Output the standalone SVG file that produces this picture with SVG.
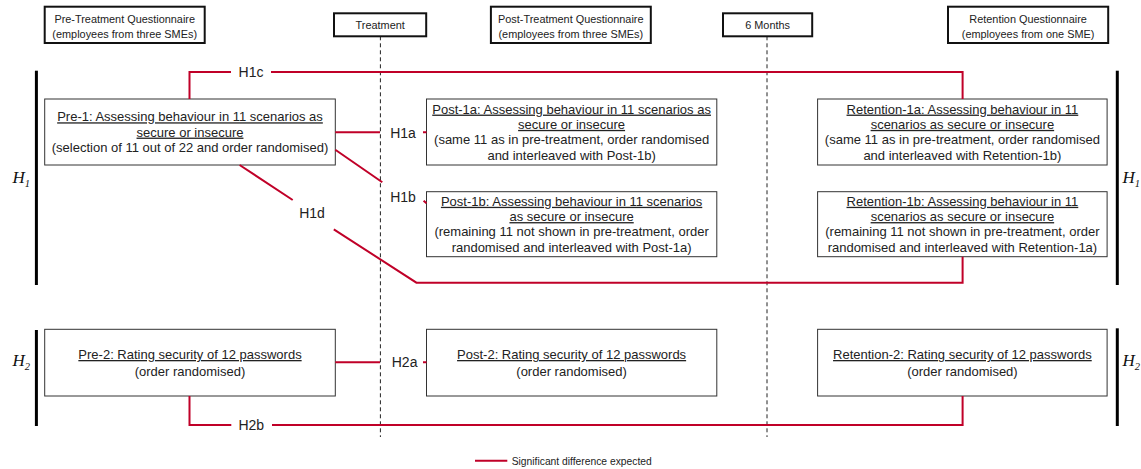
<svg xmlns="http://www.w3.org/2000/svg" width="1141" height="469" viewBox="0 0 1141 469">
<style>
.hdr rect{fill:#fff;stroke:#111;stroke-width:2}
.hdr text{font-family:"Liberation Sans",Arial,sans-serif;font-size:10.9px;fill:#222;text-anchor:middle}
.box rect{fill:#fff;stroke:#333;stroke-width:1}
.box text{font-family:"Liberation Sans",Arial,sans-serif;font-size:13px;fill:#222;text-anchor:middle}
.u{text-decoration:underline}
.red{stroke:#c00028;stroke-width:2;fill:none}
.lbl{font-family:"Liberation Sans",Arial,sans-serif;font-size:14px;fill:#222;text-anchor:middle;dominant-baseline:central}
.dash{stroke:#222;stroke-width:1;stroke-dasharray:4 3}
.bar{stroke:#000;stroke-width:3}
.hl{font-family:"Liberation Serif","Times New Roman",serif;font-style:italic;font-size:17px;fill:#111}
.leg{font-family:"Liberation Sans",Arial,sans-serif;font-size:10.3px;fill:#222}
</style>

<g id="timeline">
<line class="dash" x1="380.4" y1="36.3" x2="380.4" y2="437"/>
<line class="dash" x1="767" y1="36.3" x2="767" y2="437"/>
</g>

<g id="hdr-pre" class="hdr"><rect x="44.7" y="6.7" width="160" height="36.3"/><text x="124.7" y="22.8">Pre-Treatment Questionnaire</text><text x="124.7" y="37.5">(employees from three SMEs)</text></g>
<g id="hdr-treatment" class="hdr"><rect x="334" y="13.3" width="92.2" height="23"/><text x="380.2" y="29.4">Treatment</text></g>
<g id="hdr-post" class="hdr"><rect x="490.9" y="6.7" width="159.9" height="36.3"/><text x="570.8" y="22.8">Post-Treatment Questionnaire</text><text x="570.8" y="37.5">(employees from three SMEs)</text></g>
<g id="hdr-6months" class="hdr"><rect x="723" y="13.3" width="89.2" height="23"/><text x="767.6" y="29.4">6 Months</text></g>
<g id="hdr-retention" class="hdr"><rect x="948" y="6.7" width="160.2" height="36.3"/><text x="1028.1" y="22.8">Retention Questionnaire</text><text x="1028.1" y="37.5">(employees from one SME)</text></g>

<g id="hyp-bars">
<line class="bar" x1="36.4" y1="70.7" x2="36.4" y2="285"/>
<line class="bar" x1="36.4" y1="330" x2="36.4" y2="426"/>
<line class="bar" x1="1117.3" y1="70.7" x2="1117.3" y2="285"/>
<line class="bar" x1="1117.3" y1="328.3" x2="1117.3" y2="426"/>
<text class="hl" x="12.5" y="183">H<tspan font-size="10.5" dy="4">1</tspan></text>
<text class="hl" x="12.5" y="366">H<tspan font-size="10.5" dy="4">2</tspan></text>
<text class="hl" x="1122.5" y="183">H<tspan font-size="10.5" dy="4">1</tspan></text>
<text class="hl" x="1122.5" y="366">H<tspan font-size="10.5" dy="4">2</tspan></text>
</g>

<g id="pre-1" class="box"><rect x="44.7" y="99" width="290.6" height="66"/>
<text x="190" y="121.3" class="u">Pre-1: Assessing behaviour in 11 scenarios as</text>
<text x="190" y="136.6" class="u">secure or insecure</text>
<text x="190" y="151.9">(selection of 11 out of 22 and order randomised)</text></g>

<g id="post-1a" class="box"><rect x="426.5" y="99" width="290.3" height="66"/>
<text x="571.6" y="113.6" class="u">Post-1a: Assessing behaviour in 11 scenarios as</text>
<text x="571.6" y="128.9" class="u">secure or insecure</text>
<text x="571.6" y="144.3">(same 11 as in pre-treatment, order randomised</text>
<text x="571.6" y="159.6">and interleaved with Post-1b)</text></g>

<g id="retention-1a" class="box"><rect x="817.6" y="99" width="289.5" height="66"/>
<text x="962.4" y="113.6" class="u">Retention-1a: Assessing behaviour in 11</text>
<text x="962.4" y="128.9" class="u">scenarios as secure or insecure</text>
<text x="962.4" y="144.3">(same 11 as in pre-treatment, order randomised</text>
<text x="962.4" y="159.6">and interleaved with Retention-1b)</text></g>

<g id="post-1b" class="box"><rect x="426.5" y="191.7" width="290.3" height="65"/>
<text x="571.6" y="205.8" class="u">Post-1b: Assessing behaviour in 11 scenarios</text>
<text x="571.6" y="221.1" class="u">as secure or insecure</text>
<text x="571.6" y="236.4">(remaining 11 not shown in pre-treatment, order</text>
<text x="571.6" y="251.8">randomised and interleaved with Post-1a)</text></g>

<g id="retention-1b" class="box"><rect x="817.6" y="191.7" width="289.5" height="65"/>
<text x="962.4" y="205.8" class="u">Retention-1b: Assessing behaviour in 11</text>
<text x="962.4" y="221.1" class="u">scenarios as secure or insecure</text>
<text x="962.4" y="236.4">(remaining 11 not shown in pre-treatment, order</text>
<text x="962.4" y="251.8">randomised and interleaved with Retention-1a)</text></g>

<g id="pre-2" class="box"><rect x="44.7" y="329.3" width="290.6" height="66.7"/>
<text x="190" y="359" class="u">Pre-2: Rating security of 12 passwords</text>
<text x="190" y="376">(order randomised)</text></g>

<g id="post-2" class="box"><rect x="426.5" y="329.3" width="290.3" height="66.7"/>
<text x="571.6" y="359" class="u">Post-2: Rating security of 12 passwords</text>
<text x="571.6" y="376">(order randomised)</text></g>

<g id="retention-2" class="box"><rect x="817.6" y="329.3" width="289.5" height="66.7"/>
<text x="962.4" y="359" class="u">Retention-2: Rating security of 12 passwords</text>
<text x="962.4" y="376">(order randomised)</text></g>

<g id="connectors">
<path class="red" d="M189.5,99 V72 H231 M271,72 H962.6 V99"/>
<text class="lbl" x="251" y="72">H1c</text>
<path class="red" d="M335.3,132.3 H380 M423,132.3 H426.5"/>
<text class="lbl" x="403" y="132.5">H1a</text>
<path class="red" d="M335.3,149.7 L382.3,182.3 M423.6,200.7 L426.5,203.3"/>
<text class="lbl" x="403" y="197.3">H1b</text>
<path class="red" d="M239.6,165 L292.7,200 M333.8,229.3 L416.4,282.7 H962.6 V256.7"/>
<text class="lbl" x="312" y="213.3">H1d</text>
<path class="red" d="M335.3,362.3 H380 M423,362.3 H426.5"/>
<text class="lbl" x="404.6" y="362.3">H2a</text>
<path class="red" d="M189.5,396 V425 H231.3 M272,425 H962.6 V396"/>
<text class="lbl" x="251.3" y="425">H2b</text>
</g>

<g id="legend">
<line class="red" x1="475" y1="460.7" x2="507.3" y2="460.7"/>
<text class="leg" x="511.7" y="464.5">Significant difference expected</text>
</g>
</svg>
